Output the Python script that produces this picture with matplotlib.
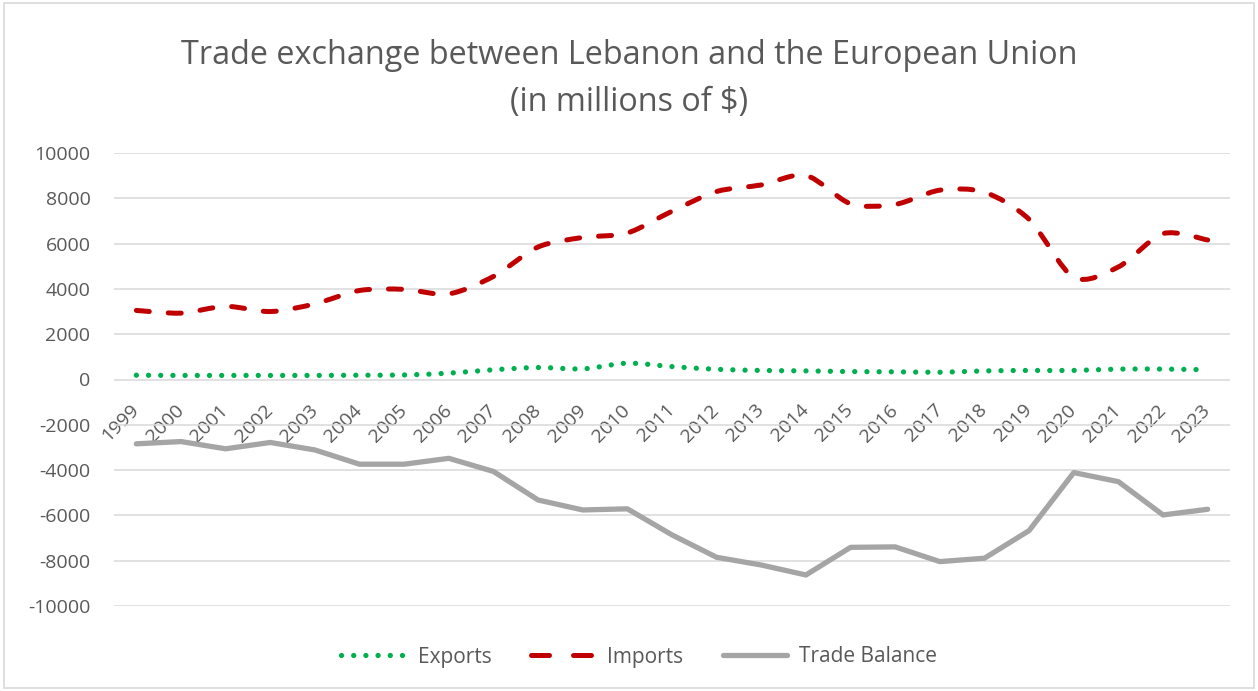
import matplotlib.pyplot as plt
import numpy as np
from matplotlib.path import Path
from matplotlib.patches import PathPatch, Rectangle
from matplotlib.lines import Line2D

plt.rcParams['font.family'] = ['Open Sans', 'DejaVu Sans']
plt.rcParams['axes.unicode_minus'] = False

years = [str(y) for y in range(1999, 2024)]
exports = [190, 180, 180, 180, 180, 190, 200, 280, 430, 530, 470, 720,
           570, 450, 400, 380, 350, 340, 320, 380, 400, 400, 460, 460, 430]
imports = [3050, 2930, 3230, 3000, 3340, 3930, 3980, 3780, 4550, 5850, 6270, 6470,
           7430, 8300, 8590, 9010, 7760, 7730, 8360, 8270, 7070, 4510, 4970, 6440, 6160]
balance = [-2840, -2740, -3060, -2780, -3110, -3740, -3740, -3480, -4060, -5320, -5760, -5710,
           -6860, -7850, -8190, -8630, -7410, -7390, -8040, -7890, -6670, -4110, -4510, -5980, -5730]

txt = '#595959'
c_exp = '#00B050'
c_imp = '#C00000'
c_bal = '#A5A5A5'


def smooth_path(xs, ys):
    # excel-like smoothed line: cubic bezier segments
    xs = np.asarray(xs, float)
    ys = np.asarray(ys, float)
    n = len(xs)
    verts = [(xs[0], ys[0])]
    codes = [Path.MOVETO]
    for i in range(n - 1):
        i0 = max(i - 1, 0)
        i3 = min(i + 2, n - 1)
        c1 = (xs[i] + (xs[i + 1] - xs[i0]) / 7, ys[i] + (ys[i + 1] - ys[i0]) / 7)
        c2 = (xs[i + 1] - (xs[i3] - xs[i]) / 7, ys[i + 1] - (ys[i3] - ys[i]) / 7)
        verts += [c1, c2, (xs[i + 1], ys[i + 1])]
        codes += [Path.CURVE4] * 3
    return Path(verts, codes)


fig = plt.figure(figsize=(12.58, 6.91), dpi=100)
ax = fig.add_axes([114 / 1258, 1 - 606 / 691, (1230 - 114) / 1258, (606 - 153) / 691])

x = np.arange(len(years))
dot_style = (0, (0.01, 2.3))
dash_style = (0, (2.6, 3.8))

ax.add_patch(PathPatch(smooth_path(x, exports), fill=False, edgecolor=c_exp, lw=3.8,
                       linestyle=dot_style, capstyle='round', zorder=3))
ax.add_patch(PathPatch(smooth_path(x, imports), fill=False, edgecolor=c_imp, lw=3.6,
                       linestyle=dash_style, capstyle='round', zorder=3))
ax.plot(x, balance, color=c_bal, lw=3.8, solid_capstyle='round', solid_joinstyle='round', zorder=3)

ax.set_xlim(-0.5, len(years) - 0.5)
ax.set_ylim(-10000, 10000)
ax.set_yticks(range(-10000, 10001, 2000))
ax.yaxis.grid(True, color='#D9D9D9', lw=1.1)
ax.set_axisbelow(True)
for s in ['top', 'right', 'left']:
    ax.spines[s].set_visible(False)
ax.spines['bottom'].set_position(('data', 0))
ax.spines['bottom'].set_visible(False)

ax.set_xticks(x)
ax.set_xticklabels(years, rotation=45, ha='right', va='center', rotation_mode='anchor')
ax.tick_params(axis='x', length=0, pad=20, labelsize=14, labelcolor=txt)
ax.tick_params(axis='y', length=0, pad=17, labelsize=14, labelcolor=txt)

fig.text(0.5, 1 - 55 / 691, 'Trade exchange between Lebanon and the European Union',
         ha='center', va='center', fontsize=23.3, color=txt)
fig.text(0.5, 1 - 102 / 691, '(in millions of $)', ha='center', va='center', fontsize=23.3, color=txt)

handles = [
    Line2D([], [], color=c_exp, lw=3.8, linestyle=dot_style, dash_capstyle='round'),
    Line2D([], [], color=c_imp, lw=3.6, linestyle=(0, (3.6, 4.8)), dash_capstyle='round'),
    Line2D([], [], color=c_bal, lw=3.8, solid_capstyle='round'),
]
leg = fig.legend(handles, ['Exports', 'Imports', 'Trade Balance'], loc='center',
                 bbox_to_anchor=(0.508, 1 - 657 / 691), ncol=3, frameon=False, fontsize=15,
                 handlelength=3.1, columnspacing=1.9, handletextpad=0.55)
for t in leg.get_texts():
    t.set_color(txt)

fig.add_artist(Rectangle((4 / 1258, 3 / 691), 1 - 8 / 1258, 1 - 6 / 691, transform=fig.transFigure,
                         fill=False, edgecolor='#D9D9D9', lw=1.2))

fig.savefig('out.png', dpi=100)
